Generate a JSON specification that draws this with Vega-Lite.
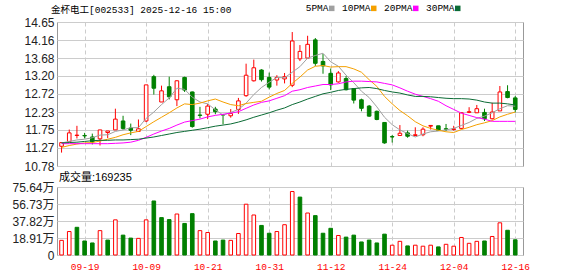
{
  "$schema": "https://vega.github.io/schema/vega-lite/v6.json",
  "autosize": {"type": "pad"},
  "padding": {"left": 11, "top": 3, "right": 49, "bottom": 6},
  "background": "white",
  "spacing": 21,
  "bounds": "flush",
  "config": {
    "view": {"stroke": "#999", "strokeWidth": 1},
    "font": "Liberation Sans, Noto Sans CJK SC",
    "axis": {"domain": false, "ticks": false, "title": null, "gridColor": "#ccc", "gridWidth": 1, "labelOverlap": false}
  },
  "datasets": {
    "k": [
      {"d":"09-16","open":11.31,"high":11.42,"low":11.14,"close":11.41,"vol":163000,"5PMA":11.40,"10PMA":11.28,"20PMA":11.38,"30PMA":11.40},
      {"d":"09-17","open":11.44,"high":11.76,"low":11.44,"close":11.67,"vol":261000,"5PMA":11.44,"10PMA":11.33,"20PMA":11.38,"30PMA":11.41},
      {"d":"09-18","open":11.60,"high":11.86,"low":11.52,"close":11.61,"vol":308000,"5PMA":11.48,"10PMA":11.37,"20PMA":11.38,"30PMA":11.42},
      {"d":"09-19","open":11.60,"high":11.67,"low":11.52,"close":11.59,"vol":156000,"5PMA":11.50,"10PMA":11.40,"20PMA":11.38,"30PMA":11.44},
      {"d":"09-22","open":11.56,"high":11.65,"low":11.36,"close":11.43,"vol":134000,"5PMA":11.54,"10PMA":11.41,"20PMA":11.38,"30PMA":11.46},
      {"d":"09-23","open":11.51,"high":11.75,"low":11.33,"close":11.75,"vol":271000,"5PMA":11.61,"10PMA":11.45,"20PMA":11.38,"30PMA":11.47},
      {"d":"09-24","open":11.68,"high":11.72,"low":11.53,"close":11.72,"vol":166000,"5PMA":11.62,"10PMA":11.50,"20PMA":11.38,"30PMA":11.47},
      {"d":"09-25","open":11.75,"high":12.32,"low":11.75,"close":12.04,"vol":391000,"5PMA":11.71,"10PMA":11.55,"20PMA":11.39,"30PMA":11.48},
      {"d":"09-26","open":11.99,"high":12.13,"low":11.75,"close":11.79,"vol":221000,"5PMA":11.75,"10PMA":11.62,"20PMA":11.40,"30PMA":11.48},
      {"d":"09-29","open":11.80,"high":11.92,"low":11.61,"close":11.74,"vol":188000,"5PMA":11.81,"10PMA":11.67,"20PMA":11.42,"30PMA":11.49},
      {"d":"09-30","open":11.71,"high":12.03,"low":11.71,"close":11.78,"vol":185000,"5PMA":11.81,"10PMA":11.71,"20PMA":11.47,"30PMA":11.50},
      {"d":"10-09","open":11.99,"high":12.96,"low":11.96,"close":12.96,"vol":391000,"5PMA":12.06,"10PMA":11.84,"20PMA":11.55,"30PMA":11.53},
      {"d":"10-10","open":13.18,"high":13.23,"low":12.70,"close":12.87,"vol":601000,"5PMA":12.23,"10PMA":11.97,"20PMA":11.64,"30PMA":11.56},
      {"d":"10-13","open":12.50,"high":12.94,"low":12.50,"close":12.80,"vol":416000,"5PMA":12.43,"10PMA":12.09,"20PMA":11.72,"30PMA":11.60},
      {"d":"10-14","open":12.91,"high":13.18,"low":12.57,"close":12.64,"vol":394000,"5PMA":12.61,"10PMA":12.21,"20PMA":11.79,"30PMA":11.64},
      {"d":"10-15","open":12.56,"high":13.08,"low":12.39,"close":13.07,"vol":456000,"5PMA":12.87,"10PMA":12.34,"20PMA":11.88,"30PMA":11.68},
      {"d":"10-16","open":13.16,"high":13.18,"low":12.77,"close":12.82,"vol":351000,"5PMA":12.84,"10PMA":12.45,"20PMA":11.96,"30PMA":11.71},
      {"d":"10-17","open":12.77,"high":12.78,"low":11.81,"close":11.84,"vol":460000,"5PMA":12.63,"10PMA":12.43,"20PMA":12.00,"30PMA":11.74},
      {"d":"10-20","open":12.15,"high":12.37,"low":12.06,"close":12.14,"vol":271000,"5PMA":12.50,"10PMA":12.47,"20PMA":12.04,"30PMA":11.77},
      {"d":"10-21","open":12.17,"high":12.45,"low":12.04,"close":12.39,"vol":250000,"5PMA":12.45,"10PMA":12.53,"20PMA":12.10,"30PMA":11.81},
      {"d":"10-22","open":12.31,"high":12.37,"low":12.17,"close":12.24,"vol":156000,"5PMA":12.29,"10PMA":12.58,"20PMA":12.14,"30PMA":11.85},
      {"d":"10-23","open":12.16,"high":12.16,"low":11.90,"close":12.15,"vol":166000,"5PMA":12.15,"10PMA":12.50,"20PMA":12.17,"30PMA":11.88},
      {"d":"10-24","open":12.13,"high":12.31,"low":12.08,"close":12.19,"vol":163000,"5PMA":12.22,"10PMA":12.43,"20PMA":12.20,"30PMA":11.91},
      {"d":"10-27","open":12.30,"high":12.61,"low":12.18,"close":12.53,"vol":239000,"5PMA":12.30,"10PMA":12.40,"20PMA":12.24,"30PMA":11.96},
      {"d":"10-28","open":12.67,"high":13.53,"low":12.64,"close":13.22,"vol":565000,"5PMA":12.47,"10PMA":12.46,"20PMA":12.33,"30PMA":12.02},
      {"d":"10-29","open":13.07,"high":13.64,"low":13.05,"close":13.42,"vol":445000,"5PMA":12.70,"10PMA":12.49,"20PMA":12.42,"30PMA":12.09},
      {"d":"10-30","open":13.36,"high":13.38,"low":13.05,"close":13.10,"vol":329000,"5PMA":12.89,"10PMA":12.52,"20PMA":12.49,"30PMA":12.15},
      {"d":"10-31","open":13.16,"high":13.29,"low":12.84,"close":12.90,"vol":242000,"5PMA":13.03,"10PMA":12.63,"20PMA":12.53,"30PMA":12.21},
      {"d":"11-03","open":13.09,"high":13.22,"low":12.94,"close":13.16,"vol":261000,"5PMA":13.16,"10PMA":12.73,"20PMA":12.60,"30PMA":12.28},
      {"d":"11-04","open":13.12,"high":13.28,"low":13.00,"close":13.18,"vol":337000,"5PMA":13.15,"10PMA":12.81,"20PMA":12.67,"30PMA":12.34},
      {"d":"11-05","open":12.95,"high":14.38,"low":12.90,"close":14.14,"vol":706000,"5PMA":13.30,"10PMA":13.00,"20PMA":12.79,"30PMA":12.43},
      {"d":"11-06","open":13.66,"high":14.03,"low":13.60,"close":13.86,"vol":644000,"5PMA":13.45,"10PMA":13.17,"20PMA":12.83,"30PMA":12.50},
      {"d":"11-07","open":13.68,"high":14.28,"low":13.67,"close":14.05,"vol":467000,"5PMA":13.68,"10PMA":13.36,"20PMA":12.89,"30PMA":12.58},
      {"d":"11-10","open":14.17,"high":14.22,"low":13.47,"close":13.54,"vol":438000,"5PMA":13.75,"10PMA":13.46,"20PMA":12.93,"30PMA":12.65},
      {"d":"11-11","open":13.59,"high":13.79,"low":13.26,"close":13.47,"vol":242000,"5PMA":13.81,"10PMA":13.48,"20PMA":12.97,"30PMA":12.72},
      {"d":"11-12","open":13.27,"high":13.40,"low":12.82,"close":12.96,"vol":297000,"5PMA":13.58,"10PMA":13.44,"20PMA":12.97,"30PMA":12.76},
      {"d":"11-13","open":13.04,"high":13.33,"low":13.02,"close":13.28,"vol":217000,"5PMA":13.46,"10PMA":13.45,"20PMA":12.99,"30PMA":12.81},
      {"d":"11-14","open":13.13,"high":13.20,"low":12.81,"close":12.83,"vol":199000,"5PMA":13.22,"10PMA":13.45,"20PMA":13.04,"30PMA":12.84},
      {"d":"11-17","open":12.86,"high":12.86,"low":12.46,"close":12.55,"vol":221000,"5PMA":13.02,"10PMA":13.39,"20PMA":13.06,"30PMA":12.86},
      {"d":"11-18","open":12.56,"high":12.59,"low":12.25,"close":12.33,"vol":145000,"5PMA":12.79,"10PMA":13.30,"20PMA":13.06,"30PMA":12.88},
      {"d":"11-19","open":12.39,"high":12.42,"low":12.10,"close":12.12,"vol":166000,"5PMA":12.62,"10PMA":13.10,"20PMA":13.05,"30PMA":12.89},
      {"d":"11-20","open":12.25,"high":12.27,"low":12.01,"close":12.03,"vol":134000,"5PMA":12.37,"10PMA":12.92,"20PMA":13.04,"30PMA":12.86},
      {"d":"11-21","open":11.95,"high":11.95,"low":11.38,"close":11.40,"vol":232000,"5PMA":12.09,"10PMA":12.65,"20PMA":13.00,"30PMA":12.81},
      {"d":"11-24","open":11.57,"high":11.61,"low":11.41,"close":11.56,"vol":109000,"5PMA":11.89,"10PMA":12.45,"20PMA":12.96,"30PMA":12.77},
      {"d":"11-25","open":11.60,"high":11.88,"low":11.60,"close":11.66,"vol":152000,"5PMA":11.75,"10PMA":12.27,"20PMA":12.88,"30PMA":12.74},
      {"d":"11-26","open":11.67,"high":11.73,"low":11.54,"close":11.58,"vol":101000,"5PMA":11.65,"10PMA":12.13,"20PMA":12.79,"30PMA":12.69},
      {"d":"11-27","open":11.60,"high":11.82,"low":11.58,"close":11.62,"vol":109000,"5PMA":11.56,"10PMA":11.97,"20PMA":12.71,"30PMA":12.65},
      {"d":"11-28","open":11.62,"high":11.82,"low":11.58,"close":11.77,"vol":98000,"5PMA":11.64,"10PMA":11.86,"20PMA":12.65,"30PMA":12.65},
      {"d":"12-01","open":11.85,"high":11.87,"low":11.76,"close":11.87,"vol":109000,"5PMA":11.70,"10PMA":11.79,"20PMA":12.59,"30PMA":12.64},
      {"d":"12-02","open":11.86,"high":11.86,"low":11.73,"close":11.74,"vol":90000,"5PMA":11.72,"10PMA":11.74,"20PMA":12.52,"30PMA":12.62},
      {"d":"12-03","open":11.78,"high":11.91,"low":11.72,"close":11.77,"vol":119000,"5PMA":11.75,"10PMA":11.70,"20PMA":12.40,"30PMA":12.60},
      {"d":"12-04","open":11.76,"high":11.86,"low":11.73,"close":11.78,"vol":98000,"5PMA":11.79,"10PMA":11.68,"20PMA":12.30,"30PMA":12.59},
      {"d":"12-05","open":11.79,"high":12.22,"low":11.77,"close":12.21,"vol":195000,"5PMA":11.87,"10PMA":11.76,"20PMA":12.20,"30PMA":12.59},
      {"d":"12-08","open":12.22,"high":12.36,"low":12.20,"close":12.24,"vol":130000,"5PMA":11.95,"10PMA":11.82,"20PMA":12.14,"30PMA":12.58},
      {"d":"12-09","open":12.21,"high":12.42,"low":12.21,"close":12.32,"vol":152000,"5PMA":12.06,"10PMA":11.89,"20PMA":12.08,"30PMA":12.55},
      {"d":"12-10","open":12.22,"high":12.32,"low":11.99,"close":12.05,"vol":156000,"5PMA":12.12,"10PMA":11.94,"20PMA":12.04,"30PMA":12.50},
      {"d":"12-11","open":12.05,"high":12.48,"low":12.03,"close":12.23,"vol":206000,"5PMA":12.21,"10PMA":12.00,"20PMA":11.98,"30PMA":12.47},
      {"d":"12-12","open":12.26,"high":12.93,"low":12.26,"close":12.77,"vol":358000,"5PMA":12.32,"10PMA":12.10,"20PMA":11.98,"30PMA":12.47},
      {"d":"12-15","open":12.78,"high":12.95,"low":12.60,"close":12.62,"vol":275000,"5PMA":12.40,"10PMA":12.17,"20PMA":11.98,"30PMA":12.45},
      {"d":"12-16","open":12.61,"high":12.66,"low":12.22,"close":12.30,"vol":169235,"5PMA":12.39,"10PMA":12.23,"20PMA":11.98,"30PMA":12.42}
    ]
  },
  "vconcat": [
    {
      "width": 466,
      "height": 144,
      "data": {"name": "k"},
      "encoding": {
        "x": {"field": "d", "type": "ordinal", "sort": null, "scale": {"type": "point", "padding": 0.8, "align": 0.37, "round": false},
          "axis": {"values": ["09-19","10-09","10-21","10-31","11-12","11-24","12-04","12-16"], "labels": false, "grid": true, "gridDash": [4, 3], "gridColor": "#ccc"}},
        "y": {"field": "low", "type": "quantitative", "title": null, "scale": {"domain": [10.78, 14.65], "zero": false, "nice": false},
          "axis": {"values": [10.78, 11.27, 11.75, 12.23, 12.72, 13.20, 13.68, 14.16, 14.65], "format": ".2f", "labelOverlap": false, "labelBound": false, "labelFontSize": 12, "labelColor": "#222", "labelPadding": 3, "grid": true}}
      },
      "layer": [
        {
          "mark": {"type": "rule", "strokeWidth": 1},
          "encoding": {
            "y2": {"field": "high"},
            "color": {"condition": {"test": "datum.close >= datum.open", "value": "#ff0000"}, "value": "#008000"}
          }
        },
        {
          "mark": {"type": "bar", "width": 3.6, "strokeWidth": 1},
          "encoding": {
            "y": {"field": "open", "type": "quantitative"},
            "y2": {"field": "close"},
            "fill": {"condition": {"test": "datum.close >= datum.open", "value": "#ffffff"}, "value": "#008000"},
            "stroke": {"condition": {"test": "datum.close >= datum.open", "value": "#ff0000"}, "value": "#008000"}
          }
        },
        {
          "transform": [{"fold": ["5PMA", "10PMA", "20PMA", "30PMA"], "as": ["line", "value"]}],
          "mark": {"type": "line", "strokeWidth": 1},
          "encoding": {
            "y": {"field": "value", "type": "quantitative"},
            "color": {"field": "line", "type": "nominal",
              "scale": {"domain": ["5PMA", "10PMA", "20PMA", "30PMA"], "range": ["#a0a0a0", "#f5a000", "#ff00ff", "#0b6b35"]},
              "legend": {"orient": "none", "legendX": -6, "legendY": -18.5, "direction": "horizontal", "padding": 0,
                "title": "金杯电工[002533] 2025-12-16 15:00", "titleOrient": "left", "titlePadding": 95, "titleLimit": 400,
                "titleFont": "Liberation Mono, Noto Sans CJK SC", "titleFontSize": 9.5, "titleFontWeight": "normal", "titleColor": "#000",
                "symbolType": "square", "symbolSize": 4, "symbolStrokeWidth": 3.5, "labelAlign": "right", "labelOffset": -8,
                "gridAlign": "all", "labelFont": "Liberation Mono", "labelFontSize": 9.5, "labelColor": "#000", "columnPadding": 1}}
          }
        }
      ]
    },
    {
      "width": 466,
      "height": 68,
      "title": {"text": "成交量:169235", "anchor": "start", "frame": "group", "font": "Liberation Sans, Noto Sans CJK SC", "fontSize": 11, "fontWeight": "normal", "color": "#000", "baseline": "bottom", "offset": 3, "dy": 16, "dx": 2},
      "data": {"name": "k"},
      "transform": [{"window": [{"op": "lag", "field": "close", "as": "prev"}], "sort": [{"field": "d"}]}],
      "mark": {"type": "bar", "width": 3.6, "strokeWidth": 1},
      "encoding": {
        "x": {"field": "d", "type": "ordinal", "sort": null, "scale": {"type": "point", "padding": 0.8, "align": 0.37, "round": false},
          "axis": {"values": ["09-19","10-09","10-21","10-31","11-12","11-24","12-04","12-16"], "labelAngle": 0, "labelColor": "#ff0000", "labelFont": "Liberation Mono", "labelFontSize": 9.5, "labelBaseline": "top", "labelPadding": 6, "grid": true, "gridDash": [4, 3], "gridColor": "#ccc"}},
        "y": {"field": "vol", "type": "quantitative", "title": null, "scale": {"domain": [0, 756400], "nice": false},
          "axis": {"values": [0, 189100, 378200, 567300, 756400], "labelExpr": "datum.value == 0 ? '0' : format(datum.value / 10000, '.2f') + '万'", "labelOverlap": false, "labelFontSize": 12, "labelColor": "#222", "labelPadding": 3, "grid": true}},
        "fill": {"condition": {"test": "datum.prev == null ? datum.close >= datum.open : datum.close > datum.prev", "value": "#ffffff"}, "value": "#008000"},
        "stroke": {"condition": {"test": "datum.prev == null ? datum.close >= datum.open : datum.close > datum.prev", "value": "#ff0000"}, "value": "#008000"}
      }
    }
  ]
}
